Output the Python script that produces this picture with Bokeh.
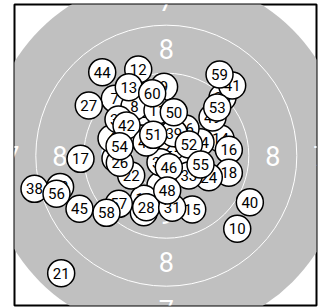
from bokeh.plotting import figure
from bokeh.models import Range1d
from bokeh.embed import file_html
from bokeh.resources import INLINE
from bokeh.core.properties import value

# Target geometry (mm)
ring_radius = [5.75, 13.75, 21.75, 29.75]
label_scores = ["9", "8", "7"]
label_radius = [9.75, 17.75, 25.75]
pellet_r = 2.25

# Shots (number, x mm, y mm)
shot_no = list(range(1, 61))
shot_x = [-8.47, -3.47, -0.97, -9.13, 1.7, -0.97, -8.58, -5.30, -0.37, 11.82,
          -1.47, -4.68, -6.25, 9.03, 4.32, 10.42, -14.3, 10.42, -3.75, -3.75,
          -17.52, -5.85, -3.8, 7.08, 2.37, -7.75, -12.92, -3.35, 1.03, 9.37,
          0.98, -0.97, 3.75, 5.7, 2.7, 3.2, -7.97, -21.97, 1.25, 13.92,
          10.98, -6.63, -17.7, -10.68, -14.47, 0.42, -3.3, 0.15, 7.7, 1.25,
          -2.18, 3.75, 8.48, -7.8, 5.7, -18.3, -7.92, -9.97, 8.87, -2.35]
shot_y = [-0.47, 7.2, 4.53, 2.87, -0.8, -4.97, 9.48, 8.20, 11.47, -12.18,
          7.53, 14.37, 11.42, 2.87, -8.97, 0.98, -0.52, -2.85, -7.18, -9.42,
          -19.58, -3.3, 2.87, -3.58, 2.53, -1.18, 8.37, -8.58, 1.53, 9.7,
          -8.68, -1.08, -3.3, 2.25, 3.7, 4.53, 6.03, -5.52, 3.75, -7.75,
          11.7, 5.03, -5.2, 13.92, -8.85, -1.92, 2.2, -5.8, 6.37, 7.25,
          3.48, 1.87, 8.03, 1.58, -1.47, -6.35, -8.02, -9.52, 13.53, 10.42]

p = figure(width=318, height=307,
           x_range=Range1d(-25.3, 25.03), y_range=Range1d(-24.97, 25.2),
           output_backend="svg", toolbar_location=None,
           x_axis_location=None, y_axis_location=None,
           min_border_left=14, min_border_right=2,
           min_border_top=4, min_border_bottom=2)
p.grid.visible = False
p.outline_line_color = "black"
p.outline_line_width = 2
p.background_fill_color = "white"
p.border_fill_color = "white"

# black (grey) aiming area
p.circle(x=[0], y=[0], radius=ring_radius[-1], fill_color="#c0c0c0", line_color=None)
# white ring lines
p.circle(x=[0] * 3, y=[0] * 3, radius=ring_radius[:3], fill_color=None,
         line_color="white", line_width=1)

# ring numbers
lx, ly, lt = [], [], []
for s, r in zip(label_scores, label_radius):
    for dx, dy in [(0, 1), (0, -1), (-1, 0), (1, 0)]:
        lx.append(dx * r)
        ly.append(dy * r)
        lt.append(s)
p.text(x=lx, y=ly, text=lt, text_font=value("Roboto"), text_font_size="27px",
       text_color="white", text_align="center", text_baseline="middle")

# shots, drawn in order so later shots cover earlier ones
for n, x, y in zip(shot_no, shot_x, shot_y):
    p.circle(x=[x], y=[y], radius=pellet_r, fill_color="white",
             line_color="black", line_width=1.5)
    p.text(x=[x], y=[y], text=[str(n)], text_font=value("Roboto"),
           text_font_size="15px", text_color="black",
           text_align="center", text_baseline="middle")

open("out.html", "w").write(file_html(p, INLINE))
